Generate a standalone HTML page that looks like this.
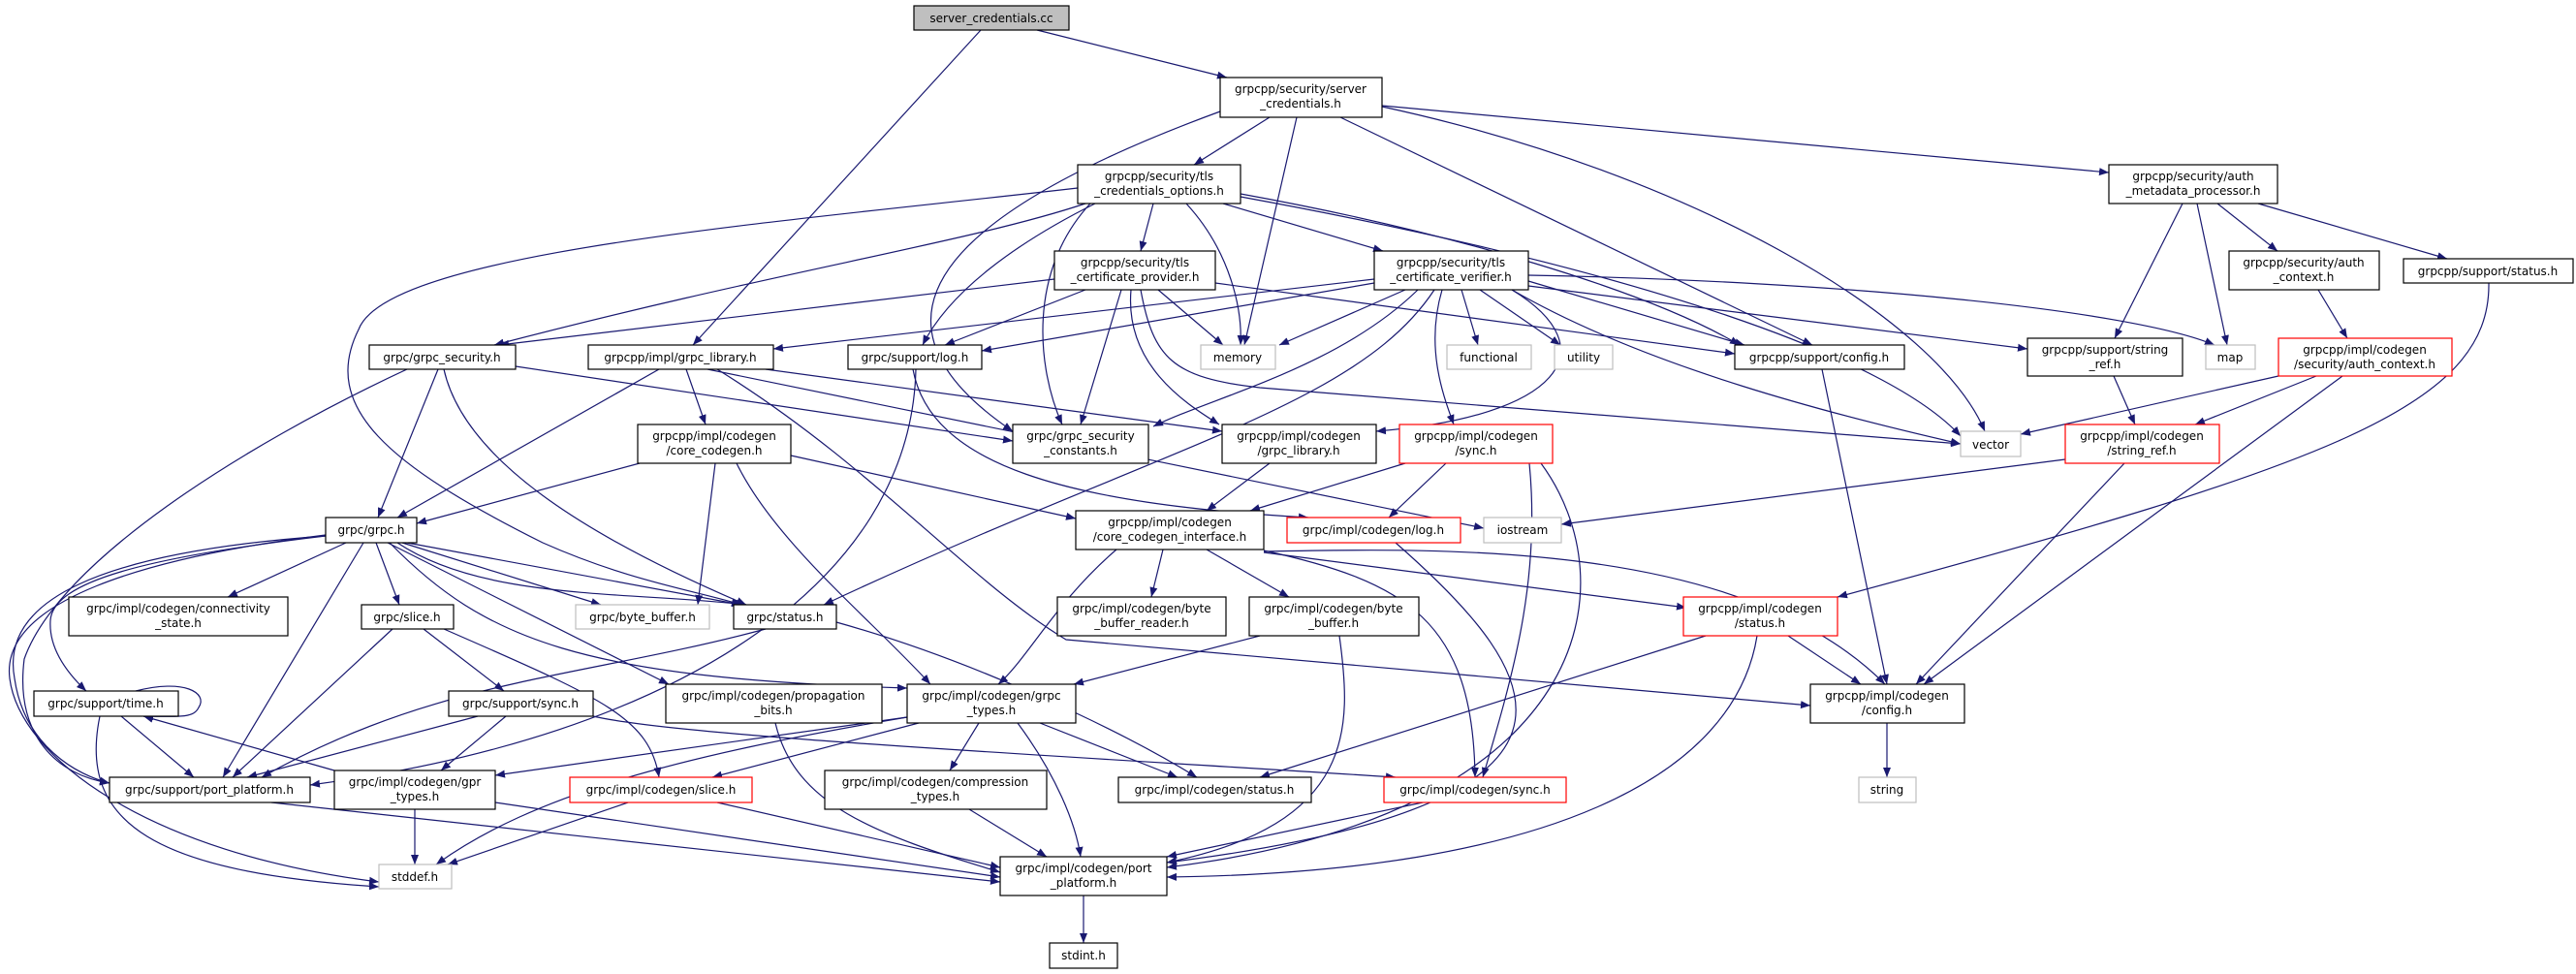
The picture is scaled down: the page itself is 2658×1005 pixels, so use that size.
<!DOCTYPE html>
<html><head><meta charset="utf-8"><style>
html,body{margin:0;padding:0;background:#fff;}
svg{display:block}
text{font-family:"DejaVu Sans","Liberation Sans",sans-serif;font-size:12px;fill:#000;text-anchor:middle}
.e{fill:none;stroke:#191970;stroke-width:1.2}
.n{fill:#fff;stroke:#000;stroke-width:1.2}
.g{fill:#fff;stroke:#bfbfbf;stroke-width:1.2}
.r{fill:#fff;stroke:#ff0000;stroke-width:1.2}
</style></head><body>
<svg width="2658" height="1005" viewBox="0 0 2658 1005" xmlns="http://www.w3.org/2000/svg">
<defs><marker id="a" viewBox="0 0 10 10" refX="10" refY="5" markerWidth="10" markerHeight="10" markerUnits="userSpaceOnUse" orient="auto"><path d="M0,1 L10,5 L0,9 z" fill="#191970"/></marker></defs>
<g marker-end="url(#a)">
<path class="e" d="M1070,31 L1266,80"/>
<path class="e" d="M1012,31 L715,356"/>
<path class="e" d="M1310,121 L1232,170"/>
<path class="e" d="M1338,121 L1284,356"/>
<path class="e" d="M1383,121 L1870,356"/>
<path class="e" d="M1426,110 C1750,180 2000,330 2048,445"/>
<path class="e" d="M1426,109 L2176,178"/>
<path class="e" d="M1259,115 C1000,210 860,320 1045,445"/>
<path class="e" d="M1190,210 L1177,259"/>
<path class="e" d="M1262,210 L1427,259"/>
<path class="e" d="M1224,210 C1270,260 1282,320 1280,356"/>
<path class="e" d="M1130,210 C1050,250 980,300 952,356"/>
<path class="e" d="M1125,210 C1060,280 1070,380 1096,438"/>
<path class="e" d="M1120,210 C1000,250 800,280 510,356"/>
<path class="e" d="M1112,194 C800,230 400,260 370,340 C330,420 400,480 560,560 C650,600 720,610 765,624"/>
<path class="e" d="M1280,200 C1500,240 1700,300 1795,356"/>
<path class="e" d="M1280,203 C1700,280 1950,370 2023,450"/>
<path class="e" d="M1088,288 L515,356"/>
<path class="e" d="M1120,299 L975,356"/>
<path class="e" d="M1195,299 L1262,356"/>
<path class="e" d="M1157,299 L1115,438"/>
<path class="e" d="M1167,299 C1160,380 1230,420 1258,438"/>
<path class="e" d="M1254,292 L1790,365"/>
<path class="e" d="M1177,299 C1190,370 1210,390 1300,400 L2023,458"/>
<path class="e" d="M1418,292 L1013,362"/>
<path class="e" d="M1450,299 L1320,356"/>
<path class="e" d="M1508,299 L1525,356"/>
<path class="e" d="M1527,299 L1610,356"/>
<path class="e" d="M1463,299 C1380,380 1250,410 1190,440"/>
<path class="e" d="M1418,288 L798,360"/>
<path class="e" d="M1480,299 C1400,420 1200,460 850,624"/>
<path class="e" d="M1488,299 C1470,360 1490,410 1500,438"/>
<path class="e" d="M1560,299 C1660,360 1610,430 1420,445"/>
<path class="e" d="M1577,290 L1800,356"/>
<path class="e" d="M1577,295 L2092,360"/>
<path class="e" d="M1577,284 C1900,290 2200,320 2285,356"/>
<path class="e" d="M1560,299 C1700,380 1900,430 2023,458"/>
<path class="e" d="M2252,210 L2182,349"/>
<path class="e" d="M2267,210 L2298,356"/>
<path class="e" d="M2288,210 L2350,259"/>
<path class="e" d="M2330,210 L2525,267"/>
<path class="e" d="M2392,299 L2422,349"/>
<path class="e" d="M2568,292 C2570,420 2400,480 1896,616"/>
<path class="e" d="M2351,388 L2085,448"/>
<path class="e" d="M2390,388 L2265,438"/>
<path class="e" d="M2417,388 L1985,706"/>
<path class="e" d="M2181,388 L2203,438"/>
<path class="e" d="M2131,474 L1611,541"/>
<path class="e" d="M2192,478 L1977,706"/>
<path class="e" d="M1880,381 L1947,706"/>
<path class="e" d="M452,381 L390,534"/>
<path class="e" d="M532,378 L1045,455"/>
<path class="e" d="M458,381 C480,480 620,560 770,624"/>
<path class="e" d="M420,381 C250,460 60,580 25,680 C15,760 60,800 113,808"/>
<path class="e" d="M680,381 L410,534"/>
<path class="e" d="M708,381 L728,438"/>
<path class="e" d="M790,381 L1261,445"/>
<path class="e" d="M730,381 L1531,545"/>
<path class="e" d="M740,381 C900,480 1000,600 1100,660 L1868,728"/>
<path class="e" d="M660,478 L430,540"/>
<path class="e" d="M738,478 L720,624"/>
<path class="e" d="M816,470 L1110,535"/>
<path class="e" d="M760,478 C800,560 900,640 960,706"/>
<path class="e" d="M357,560 L235,616"/>
<path class="e" d="M388,560 L412,624"/>
<path class="e" d="M415,560 L620,624"/>
<path class="e" d="M420,560 L765,624"/>
<path class="e" d="M410,560 C500,620 650,610 770,624"/>
<path class="e" d="M375,560 L230,802"/>
<path class="e" d="M336,553 C150,575 55,600 52,640 C50,670 70,695 89,713"/>
<path class="e" d="M336,552 C150,575 0,620 10,700 C20,780 150,880 391,910"/>
<path class="e" d="M336,553 C100,570 0,620 15,700 C25,770 80,800 113,808"/>
<path class="e" d="M400,560 L690,706"/>
<path class="e" d="M402,560 C500,660 600,700 936,710"/>
<path class="e" d="M790,649 C600,700 450,700 270,802"/>
<path class="e" d="M863,642 C1000,680 1150,750 1235,802"/>
<path class="e" d="M405,649 L240,802"/>
<path class="e" d="M437,649 L520,713"/>
<path class="e" d="M458,649 C620,720 670,740 680,802"/>
<path class="e" d="M140,713 C190,700 215,715 205,730 C200,740 190,740 148,739"/>
<path class="e" d="M125,739 L200,802"/>
<path class="e" d="M103,739 C80,850 160,900 391,915"/>
<path class="e" d="M345,795 L148,739"/>
<path class="e" d="M493,739 L255,802"/>
<path class="e" d="M522,739 L455,795"/>
<path class="e" d="M612,739 C700,760 1100,780 1440,802"/>
<path class="e" d="M800,746 C820,830 900,860 1032,900"/>
<path class="e" d="M428,835 L428,892"/>
<path class="e" d="M511,828 L1032,905"/>
<path class="e" d="M280,828 L1032,910"/>
<path class="e" d="M648,828 L462,892"/>
<path class="e" d="M740,828 L1032,895"/>
<path class="e" d="M1000,835 L1080,884"/>
<path class="e" d="M1010,746 L980,795"/>
<path class="e" d="M1073,746 L1215,802"/>
<path class="e" d="M1050,746 C1090,800 1110,850 1115,884"/>
<path class="e" d="M936,740 C700,780 550,820 450,892"/>
<path class="e" d="M948,746 L735,802"/>
<path class="e" d="M936,740 L511,800"/>
<path class="e" d="M1200,567 L1188,616"/>
<path class="e" d="M1245,567 L1330,616"/>
<path class="e" d="M1152,567 C1090,620 1060,680 1030,706"/>
<path class="e" d="M1304,568 C1450,600 1520,640 1522,802"/>
<path class="e" d="M1304,570 L1740,627"/>
<path class="e" d="M1304,569 C1500,565 1800,560 1945,706"/>
<path class="e" d="M1300,656 L1108,706"/>
<path class="e" d="M1382,656 C1395,750 1400,850 1204,890"/>
<path class="e" d="M1468,828 L1204,884"/>
<path class="e" d="M1845,656 L1920,706"/>
<path class="e" d="M1760,656 L1300,802"/>
<path class="e" d="M1813,656 C1790,800 1600,900 1204,905"/>
<path class="e" d="M1310,478 L1245,527"/>
<path class="e" d="M1450,478 L1290,527"/>
<path class="e" d="M1492,478 L1433,534"/>
<path class="e" d="M1578,478 C1590,600 1560,700 1530,802"/>
<path class="e" d="M1590,478 C1680,600 1650,840 1204,895"/>
<path class="e" d="M1440,560 C1600,700 1680,830 1204,890"/>
<path class="e" d="M942,381 C960,480 1100,520 1350,534"/>
<path class="e" d="M945,381 C940,600 700,760 320,810"/>
<path class="e" d="M1947,746 L1947,802"/>
<path class="e" d="M1118,924 L1118,973"/>
</g>
<g>
<rect x="943" y="6" width="160" height="25" fill="#bfbfbf" stroke="#000" stroke-width="1.2"/><text x="1023" y="23">server_credentials.cc</text>
<rect class="n" x="1259" y="80" width="167" height="41"/><text x="1342" y="96">grpcpp/security/server</text><text x="1342" y="111">_credentials.h</text>
<rect class="n" x="1112" y="170" width="168" height="40"/><text x="1196" y="186">grpcpp/security/tls</text><text x="1196" y="201">_credentials_options.h</text>
<rect class="n" x="1088" y="259" width="166" height="40"/><text x="1171" y="275">grpcpp/security/tls</text><text x="1171" y="290">_certificate_provider.h</text>
<rect class="n" x="1418" y="259" width="159" height="40"/><text x="1497" y="275">grpcpp/security/tls</text><text x="1497" y="290">_certificate_verifier.h</text>
<rect class="n" x="875" y="356" width="138" height="25"/><text x="944" y="373">grpc/support/log.h</text>
<rect class="g" x="1239" y="356" width="77" height="25"/><text x="1277" y="373">memory</text>
<rect class="g" x="1493" y="356" width="87" height="25"/><text x="1536" y="373">functional</text>
<rect class="g" x="1604" y="356" width="60" height="25"/><text x="1634" y="373">utility</text>
<rect class="n" x="1045" y="438" width="140" height="40"/><text x="1115" y="454">grpc/grpc_security</text><text x="1115" y="469">_constants.h</text>
<rect class="n" x="1261" y="438" width="159" height="40"/><text x="1340" y="454">grpcpp/impl/codegen</text><text x="1340" y="469">/grpc_library.h</text>
<rect class="r" x="1444" y="438" width="158" height="40"/><text x="1523" y="454">grpcpp/impl/codegen</text><text x="1523" y="469">/sync.h</text>
<rect class="n" x="2176" y="170" width="174" height="40"/><text x="2263" y="186">grpcpp/security/auth</text><text x="2263" y="201">_metadata_processor.h</text>
<rect class="n" x="2300" y="259" width="155" height="40"/><text x="2377" y="275">grpcpp/security/auth</text><text x="2377" y="290">_context.h</text>
<rect class="n" x="2480" y="267" width="175" height="25"/><text x="2567" y="284">grpcpp/support/status.h</text>
<rect class="n" x="1790" y="356" width="175" height="25"/><text x="1877" y="373">grpcpp/support/config.h</text>
<rect class="n" x="2092" y="349" width="160" height="39"/><text x="2172" y="365">grpcpp/support/string</text><text x="2172" y="380">_ref.h</text>
<rect class="g" x="2276" y="356" width="51" height="25"/><text x="2301" y="373">map</text>
<rect class="r" x="2351" y="349" width="179" height="39"/><text x="2440" y="365">grpcpp/impl/codegen</text><text x="2440" y="380">/security/auth_context.h</text>
<rect class="g" x="2023" y="445" width="62" height="26"/><text x="2054" y="463">vector</text>
<rect class="r" x="2131" y="438" width="159" height="40"/><text x="2210" y="454">grpcpp/impl/codegen</text><text x="2210" y="469">/string_ref.h</text>
<rect class="n" x="381" y="356" width="151" height="25"/><text x="456" y="373">grpc/grpc_security.h</text>
<rect class="n" x="607" y="356" width="191" height="25"/><text x="702" y="373">grpcpp/impl/grpc_library.h</text>
<rect class="n" x="658" y="438" width="158" height="40"/><text x="737" y="454">grpcpp/impl/codegen</text><text x="737" y="469">/core_codegen.h</text>
<rect class="n" x="336" y="534" width="94" height="26"/><text x="383" y="551">grpc/grpc.h</text>
<rect class="n" x="71" y="616" width="226" height="40"/><text x="184" y="632">grpc/impl/codegen/connectivity</text><text x="184" y="647">_state.h</text>
<rect class="n" x="373" y="624" width="95" height="25"/><text x="420" y="641">grpc/slice.h</text>
<rect class="g" x="594" y="624" width="138" height="25"/><text x="663" y="641">grpc/byte_buffer.h</text>
<rect class="n" x="757" y="624" width="106" height="25"/><text x="810" y="641">grpc/status.h</text>
<rect class="n" x="35" y="713" width="149" height="26"/><text x="109" y="730">grpc/support/time.h</text>
<rect class="n" x="463" y="713" width="149" height="26"/><text x="537" y="730">grpc/support/sync.h</text>
<rect class="n" x="687" y="706" width="223" height="40"/><text x="798" y="722">grpc/impl/codegen/propagation</text><text x="798" y="737">_bits.h</text>
<rect class="n" x="113" y="802" width="207" height="26"/><text x="216" y="819">grpc/support/port_platform.h</text>
<rect class="n" x="345" y="795" width="166" height="40"/><text x="428" y="811">grpc/impl/codegen/gpr</text><text x="428" y="826">_types.h</text>
<rect class="r" x="588" y="802" width="188" height="26"/><text x="682" y="819">grpc/impl/codegen/slice.h</text>
<rect class="g" x="391" y="892" width="75" height="25"/><text x="428" y="909">stddef.h</text>
<rect class="n" x="851" y="795" width="229" height="40"/><text x="965" y="811">grpc/impl/codegen/compression</text><text x="965" y="826">_types.h</text>
<rect class="n" x="1110" y="527" width="194" height="40"/><text x="1207" y="543">grpcpp/impl/codegen</text><text x="1207" y="558">/core_codegen_interface.h</text>
<rect class="r" x="1328" y="534" width="179" height="26"/><text x="1417" y="551">grpc/impl/codegen/log.h</text>
<rect class="g" x="1531" y="534" width="80" height="26"/><text x="1571" y="551">iostream</text>
<rect class="n" x="1091" y="616" width="174" height="40"/><text x="1178" y="632">grpc/impl/codegen/byte</text><text x="1178" y="647">_buffer_reader.h</text>
<rect class="n" x="1289" y="616" width="175" height="40"/><text x="1376" y="632">grpc/impl/codegen/byte</text><text x="1376" y="647">_buffer.h</text>
<rect class="n" x="936" y="706" width="174" height="40"/><text x="1023" y="722">grpc/impl/codegen/grpc</text><text x="1023" y="737">_types.h</text>
<rect class="n" x="1154" y="802" width="199" height="26"/><text x="1253" y="819">grpc/impl/codegen/status.h</text>
<rect class="r" x="1428" y="802" width="188" height="26"/><text x="1522" y="819">grpc/impl/codegen/sync.h</text>
<rect class="n" x="1032" y="884" width="172" height="40"/><text x="1118" y="900">grpc/impl/codegen/port</text><text x="1118" y="915">_platform.h</text>
<rect class="n" x="1083" y="973" width="70" height="26"/><text x="1118" y="990">stdint.h</text>
<rect class="r" x="1737" y="616" width="159" height="40"/><text x="1816" y="632">grpcpp/impl/codegen</text><text x="1816" y="647">/status.h</text>
<rect class="n" x="1868" y="706" width="159" height="40"/><text x="1947" y="722">grpcpp/impl/codegen</text><text x="1947" y="737">/config.h</text>
<rect class="g" x="1918" y="802" width="59" height="26"/><text x="1947" y="819">string</text>
</g>
</svg>
</body></html>
